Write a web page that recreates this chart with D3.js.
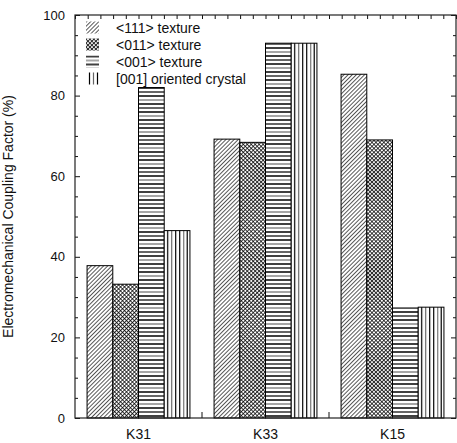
<!DOCTYPE html>
<html lang="en">
<head>
    <meta charset="UTF-8">
    <title>Electromechanical Coupling Factor</title>
    <script src="https://d3js.org/d3.v7.min.js"></script>
    <style>
        body { margin: 0; background: white; }
        svg { display: block; font-family: "Liberation Sans", Arial, sans-serif; }
    </style>
</head>
<body>
    <div id="chart"></div>
    <script>
        // Data
        const categories = ["K31", "K33", "K15"];
        const seriesNames = ["<111> texture", "<011> texture", "<001> texture", "[001] oriented crystal"];
        const tex111 = [37.8, 69.2, 85.3];
        const tex011 = [33.2, 68.4, 69.0];
        const tex001 = [82.0, 93.0, 27.3];
        const crystal001 = [46.5, 93.0, 27.5];
        const yTicks = [0, 20, 40, 60, 80, 100];

        const seriesValues = [tex111, tex011, tex001, crystal001];
        const patternIds = ["p111", "p011", "p001", "pcrys"];

        const W = 457, H = 443;
        const margin = { top: 15, right: 1, bottom: 25, left: 75 };
        const width = W - margin.left - margin.right,
              height = H - margin.top - margin.bottom;

        const svg = d3.select("#chart").append("svg")
            .attr("width", W).attr("height", H);

        // ----- patterns -----
        const defs = svg.append("defs");

        // diagonal hatch
        const p1 = defs.append("pattern").attr("id", "p111")
            .attr("patternUnits", "userSpaceOnUse").attr("width", 2.9).attr("height", 2.9)
            .attr("patternTransform", "rotate(45)");
        p1.append("rect").attr("width", 2.9).attr("height", 2.9).attr("fill", "white");
        p1.append("line").attr("x1", 0).attr("y1", 0).attr("x2", 0).attr("y2", 2.9)
            .attr("stroke", "#000").attr("stroke-width", 1.3);

        // dense cross hatch
        const p2 = defs.append("pattern").attr("id", "p011")
            .attr("patternUnits", "userSpaceOnUse").attr("width", 2.8).attr("height", 2.8)
            .attr("patternTransform", "rotate(45)");
        p2.append("rect").attr("width", 2.8).attr("height", 2.8).attr("fill", "white");
        p2.append("line").attr("x1", 0).attr("y1", 0).attr("x2", 0).attr("y2", 2.8)
            .attr("stroke", "#000").attr("stroke-width", 1.5);
        p2.append("line").attr("x1", 0).attr("y1", 0).attr("x2", 2.8).attr("y2", 0)
            .attr("stroke", "#000").attr("stroke-width", 1.5);

        // horizontal lines, mixed black / gray
        const p3 = defs.append("pattern").attr("id", "p001")
            .attr("patternUnits", "userSpaceOnUse").attr("width", 10).attr("height", 16);
        p3.append("rect").attr("width", 10).attr("height", 16).attr("fill", "white");
        [[1, "#000"], [5, "#888"], [9, "#000"], [13, "#333"]].forEach(([yy, c]) => {
            p3.append("line").attr("x1", 0).attr("x2", 10).attr("y1", yy).attr("y2", yy)
                .attr("stroke", c).attr("stroke-width", 1.5);
        });

        // vertical lines, one tile per bar
        const p4 = defs.append("pattern").attr("id", "pcrys")
            .attr("patternUnits", "objectBoundingBox").attr("width", 1).attr("height", 1);
        p4.append("rect").attr("width", 40).attr("height", 500).attr("fill", "white");
        [[3.5, "#000"], [7.5, "#666"], [11.5, "#000"], [15.5, "#000"], [19.5, "#777"], [23, "#000"]].forEach(([xx, c]) => {
            p4.append("line").attr("x1", xx).attr("x2", xx).attr("y1", 0).attr("y2", 500)
                .attr("stroke", c).attr("stroke-width", 1.2);
        });

        const g = svg.append("g").attr("transform", `translate(${margin.left},${margin.top})`);

        // ----- scales -----
        const x0 = d3.scaleBand().domain(categories).range([0, width])
            .paddingInner(0.19).paddingOuter(0.095);
        const x1 = d3.scaleBand().domain(d3.range(seriesNames.length))
            .range([0, x0.bandwidth()]);
        const y = d3.scaleLinear().domain([0, 100]).range([height, 0]);

        // ----- bars -----
        const rows = [];
        categories.forEach((c, ci) => {
            seriesValues.forEach((vals, si) => rows.push({ cat: c, s: si, v: vals[ci] }));
        });

        g.selectAll("rect.bar").data(rows).join("rect")
            .attr("class", "bar")
            .attr("x", d => x0(d.cat) + x1(d.s))
            .attr("y", d => y(d.v))
            .attr("width", x1.bandwidth())
            .attr("height", d => y(0) - y(d.v))
            .attr("fill", d => `url(#${patternIds[d.s]})`)
            .attr("stroke", "#000")
            .attr("stroke-width", 1);

        // ----- frame and axes -----
        const axisLeft = d3.axisLeft(y).tickValues(yTicks).tickSize(-5).tickPadding(10)
            .tickFormat(d3.format("d"));
        const gl = g.append("g").call(axisLeft);
        gl.select(".domain").remove();
        gl.selectAll("text").attr("font-size", 13).attr("fill", "#111")
            .attr("font-family", "Liberation Sans, Arial, sans-serif");

        // minor ticks, left and right
        const minor = d3.range(0, 101, 5).filter(v => v % 20 !== 0);
        g.append("g").call(d3.axisLeft(y).tickValues(minor).tickSize(-3).tickFormat(""))
            .call(s => s.select(".domain").remove());
        g.append("g").attr("transform", `translate(${width},0)`)
            .call(d3.axisRight(y).tickValues(yTicks).tickSize(-5).tickFormat(""))
            .call(s => s.select(".domain").remove());
        g.append("g").attr("transform", `translate(${width},0)`)
            .call(d3.axisRight(y).tickValues(minor).tickSize(-3).tickFormat(""))
            .call(s => s.select(".domain").remove());

        // top minor ticks
        const xTop = d3.scaleLinear().domain([0, 30]).range([0, width]);
        g.append("g")
            .call(d3.axisTop(xTop).ticks(30).tickSize(-4).tickFormat(""))
            .call(s => s.select(".domain").remove());

        // bottom axis: category labels and ticks between groups
        const gb = g.append("g").attr("transform", `translate(0,${height})`)
            .call(d3.axisBottom(x0).tickSize(0).tickPadding(11));
        gb.select(".domain").remove();
        gb.selectAll("text").attr("font-size", 14).attr("fill", "#111")
            .attr("font-family", "Liberation Sans, Arial, sans-serif");
        const sep = categories.slice(1).map(c => x0(c) - x0.step() * x0.paddingInner() / 2);
        g.append("g").selectAll("line").data(sep).join("line")
            .attr("x1", d => d).attr("x2", d => d)
            .attr("y1", height).attr("y2", height - 6)
            .attr("stroke", "#111");

        g.append("rect").attr("width", width).attr("height", height)
            .attr("fill", "none").attr("stroke", "#222").attr("stroke-width", 1.2);
        g.selectAll(".tick line").attr("stroke", "#111");

        // ----- y label -----
        svg.append("text")
            .attr("transform", `translate(13,${margin.top + height / 2}) rotate(-90)`)
            .attr("text-anchor", "middle")
            .attr("font-size", 14)
            .attr("fill", "#111")
            .text("Electromechanical Coupling Factor (%)");

        // ----- legend -----
        const legend = g.append("g").attr("transform", "translate(11,6.5)");
        const items = legend.selectAll("g").data(seriesNames).join("g")
            .attr("transform", (d, i) => `translate(0,${i * 17})`);
        items.append("rect")
            .attr("width", 13).attr("height", 12)
            .attr("fill", (d, i) => `url(#${patternIds[i]})`);
        items.append("text")
            .attr("x", 30).attr("y", 11)
            .attr("font-size", 14).attr("fill", "#111")
            .text(d => d);
    </script>
</body>
</html>
